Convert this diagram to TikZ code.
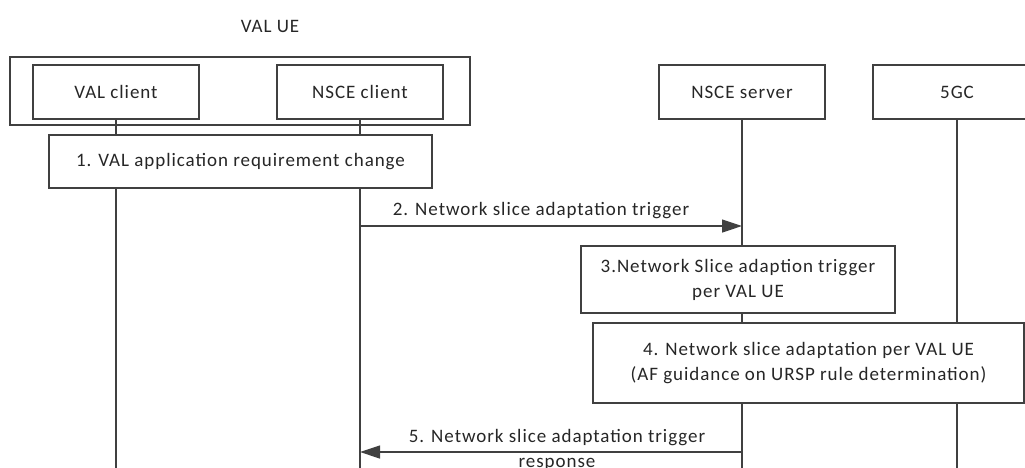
\documentclass[tikz,border=0pt]{standalone}
\usepackage{fontspec}
\setmainfont{Carlito}[LetterSpace=5]
\usetikzlibrary{arrows.meta}
\tikzset{
  ln/.style={draw=black!75, line width=1.2pt},
  box/.style={ln, fill=white, rectangle, inner sep=0pt, align=center, text=black!85, font=\fontsize{19}{25}\selectfont},
  lbl/.style={inner sep=0pt, align=center, text=black!85, font=\fontsize{19}{25}\selectfont},
  life/.style={ln},
  msg/.style={ln, -{Triangle[length=20pt,width=13pt]}}
}
\begin{document}
\begin{tikzpicture}[x=1pt,y=-1pt]
\useasboundingbox (0,0) rectangle (1025,467);
\node[lbl] (title) at (270,26) {VAL UE};
\node[box, minimum width=460pt, minimum height=68pt] (ue) at (240,91) {};
\node[box, minimum width=166pt, minimum height=54pt] (valc) at (116,92) {VAL client};
\node[box, minimum width=166pt, minimum height=54pt] (nscec) at (360,92) {NSCE client};
\node[box, minimum width=166pt, minimum height=54pt] (nsces) at (742,92) {NSCE server};
\node[box, minimum width=168pt, minimum height=54pt] (fivegc) at (957,92) {5GC};
\coordinate (bot) at (0,475);
\draw[life] (valc.south) -- (valc.south |- bot);
\draw[life] (nscec.south) -- (nscec.south |- bot);
\draw[life] (nsces.south) -- (nsces.south |- bot);
\draw[life] (fivegc.south) -- (fivegc.south |- bot);
\node[box, minimum width=383pt, minimum height=53pt] (s1) at (240.5,161.5) {1. VAL application requirement change};
\coordinate (m2) at (0,226);
\draw[msg] (nscec.south |- m2) -- (nsces.south |- m2);
\node[lbl] (l2) at (541,211) {2. Network slice adaptation trigger};
\node[box, minimum width=314pt, minimum height=67pt] (s3) at (738,279.5) {3.Network Slice adaption trigger\\per VAL UE};
\node[box, minimum width=431pt, minimum height=80pt] (s4) at (808.5,363) {4. Network slice adaptation per VAL UE\\(AF guidance on URSP rule determination)};
\coordinate (m5) at (0,452);
\draw[msg] (nsces.south |- m5) -- (nscec.south |- m5);
\node[lbl] (l5) at (557,449.5) {5. Network slice adaptation trigger\\response};
\end{tikzpicture}
\end{document}
